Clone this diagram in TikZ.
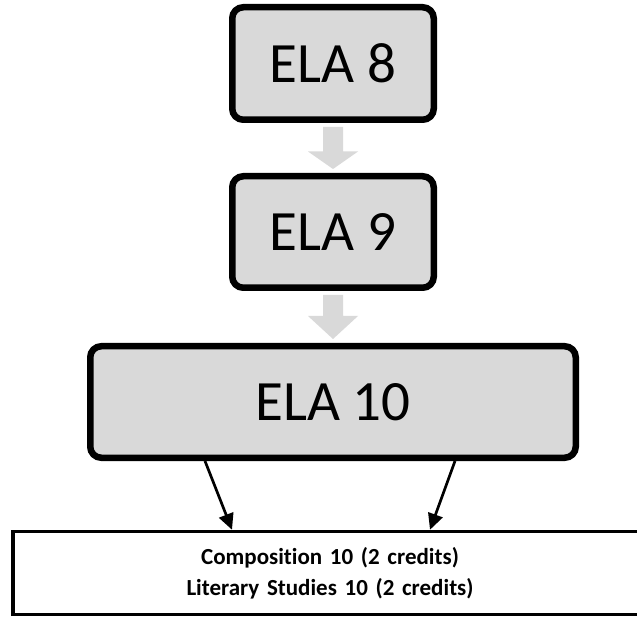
\documentclass[tikz,border=0pt]{standalone}
\usepackage{fontspec}
\setmainfont[Ligatures=NoCommon]{Carlito}
\usetikzlibrary{arrows.meta,calc}
\definecolor{boxgray}{HTML}{D9D9D9}
\definecolor{arrowgray}{HTML}{D9D9D9}
\tikzset{
  elabox/.style={draw=black, fill=boxgray, line width=6.5pt, rounded corners=11pt,
    inner sep=0pt, font=\fontsize{57}{60}\selectfont},
  blockarrow/.style={fill=arrowgray, draw=none},
  conn/.style={draw=black, line width=2.7pt, -{Triangle[length=16pt,width=15pt]}},
  credbox/.style={draw=black, line width=3.5pt, fill=white, inner sep=0pt, align=center,
    font=\fontsize{23}{31}\selectfont\bfseries}
}
\begin{document}
\begin{tikzpicture}[x=1pt,y=-1pt]
\useasboundingbox (0,0) rectangle (637,617);
\fill[white] (0,0) rectangle (637,617);

\node[elabox, minimum width=201.5pt, minimum height=112.5pt] (e8) at (333,63.5) {ELA 8};
\node[elabox, minimum width=201.5pt, minimum height=111.5pt] (e9) at (333,232) {ELA 9};
\node[elabox, minimum width=485.5pt, minimum height=111.5pt] (e10) at (333,402) {ELA 10};

\node[credbox, minimum width=627pt, minimum height=83pt, text width=627pt] (bot) at (326.5,573)
  {\hspace*{7pt}Composition 10 (2 credits)\\\hspace*{7pt}Literary Studies 10 (2 credits)};

% block arrows
\fill[blockarrow] ($(e8.south)+(-10,4)$) -- ($(e8.south)+(10,4)$) -- ($(e8.south)+(10,28.5)$)
  -- ($(e8.south)+(25,28.5)$) -- ($(e9.north)+(0,-4)$) -- ($(e8.south)+(-25,28.5)$)
  -- ($(e8.south)+(-10,28.5)$) -- cycle;
\fill[blockarrow] ($(e9.south)+(-10,4)$) -- ($(e9.south)+(10,4)$) -- ($(e9.south)+(10,25)$)
  -- ($(e9.south)+(25,25)$) -- ($(e10.north)+(0,-4)$) -- ($(e9.south)+(-25,25)$)
  -- ($(e9.south)+(-10,25)$) -- cycle;

% connectors
\draw[conn] (e10.south -| 205,0) -- (bot.north -| 232,0);
\draw[conn] (e10.south -| 455,0) -- (bot.north -| 430,0);
\end{tikzpicture}
\end{document}
